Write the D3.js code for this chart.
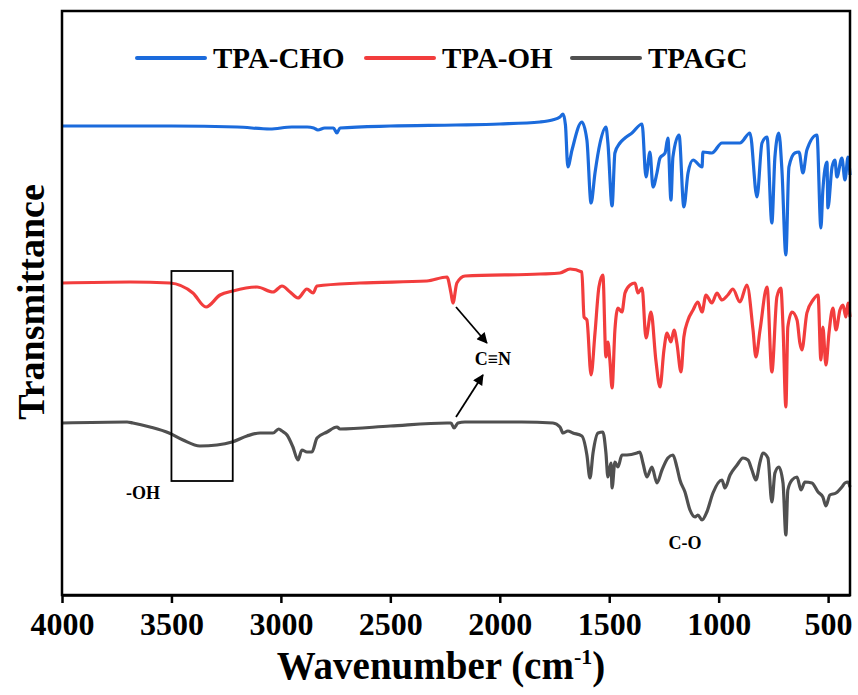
<!DOCTYPE html>
<html>
<head>
<meta charset="utf-8">
<script src="https://cdn.jsdelivr.net/npm/d3@7"></script>
<style>
  body { margin: 0; background: #fff; }
  text { font-family: "Liberation Serif", "Times New Roman", serif; font-weight: bold; fill: #000; }
</style>
</head>
<body>
<script>
// wavenumber (cm-1), transmittance (offset, arbitrary units)
const tpaCho = [[4000,469],[3500,469],[3200,468],[3050,466],[2950,468],[2880,468],[2850,467],[2831,465],[2800,467],[2760,467],[2744,462],[2730,467],[2500,469],[2200,470],[2000,471],[1816,473],[1760,475],[1725,478],[1711,481],[1700,470],[1689,428],[1670,445],[1625,473],[1602,455],[1583,392],[1565,422],[1542,452],[1515,468],[1506,452],[1487,389],[1474,442],[1451,452],[1428,457],[1396,462],[1350,471],[1332,418],[1314,443],[1300,408],[1282,422],[1268,437],[1245,442],[1232,457],[1218,395],[1209,438],[1181,460],[1159,388],[1140,422],[1117,435],[1076,428],[1072,443],[1031,442],[985,452],[903,452],[857,462],[825,398],[802,452],[779,458],[757,372],[743,438],[725,462],[711,425],[693,340],[679,428],[652,442],[633,443],[615,422],[597,445],[551,460],[533,367],[524,405],[505,433],[501,387],[482,428],[469,435],[460,418],[437,437],[423,415],[409,438],[400,420]];

const tpaOh = [[4000,312],[3689,313],[3507,312],[3402,302],[3342,288],[3278,300],[3219,304],[3109,308],[3036,303],[2995,309],[2958,303],[2922,297],[2881,306],[2853,302],[2835,309],[2639,312],[2333,314],[2241,318],[2223,302],[2214,292],[2196,312],[2159,319],[1816,321],[1725,322],[1679,326],[1625,323],[1615,278],[1602,275],[1583,220],[1565,262],[1547,308],[1529,320],[1515,238],[1506,253],[1497,235],[1487,207],[1474,265],[1460,287],[1442,283],[1428,302],[1405,310],[1382,312],[1369,302],[1350,307],[1332,257],[1309,283],[1287,235],[1268,208],[1250,245],[1236,262],[1218,253],[1204,265],[1191,252],[1172,223],[1159,258],[1140,275],[1117,285],[1095,293],[1076,283],[1058,300],[1031,292],[1008,302],[985,295],[958,300],[935,306],[903,293],[871,310],[843,265],[830,238],[811,265],[779,308],[757,223],[734,298],[716,307],[706,268],[693,188],[684,268],[665,283],[642,275],[629,252],[620,245],[597,282],[569,295],[546,300],[533,235],[524,268],[510,230],[496,262],[478,287],[464,265],[446,285],[432,290],[419,278],[409,292],[400,278]];

const tpagc = [[4000,172],[3703,173],[3676,172],[3598,168],[3511,162],[3447,155],[3370,149],[3292,150],[3223,153],[3155,159],[3095,162],[3036,162],[3010,166],[2995,164],[2972,160],[2945,148],[2922,135],[2904,145],[2881,143],[2858,143],[2835,157],[2789,163],[2744,168],[2730,166],[2500,169],[2241,172],[2223,172],[2209,167],[2191,172],[2159,173],[1900,173],[1757,172],[1725,168],[1711,162],[1689,164],[1666,162],[1625,159],[1602,140],[1588,117],[1574,142],[1551,162],[1529,163],[1515,142],[1506,118],[1492,132],[1487,107],[1474,133],[1460,128],[1442,140],[1419,140],[1373,142],[1360,143],[1346,132],[1328,118],[1305,128],[1282,112],[1259,125],[1232,137],[1209,140],[1191,128],[1177,115],[1154,103],[1131,85],[1108,78],[1095,80],[1076,75],[1054,83],[1026,102],[985,115],[971,107],[948,120],[916,130],[889,137],[866,135],[848,125],[830,115],[811,133],[798,142],[775,137],[757,93],[743,122],[725,128],[706,112],[693,60],[684,105],[665,115],[642,118],[624,105],[606,113],[574,112],[546,103],[524,98],[510,89],[492,100],[464,102],[437,108],[423,112],[409,113],[400,108]];

const seriesNames = ["TPA-CHO", "TPA-OH", "TPAGC"];
const seriesColors = ["#1b6bdc", "#f23d3d", "#505050"];
const xTicks = [4000, 3500, 3000, 2500, 2000, 1500, 1000, 500];

const w = 858;
const h = 695;
const margin = {top: 11, right: 8, bottom: 100, left: 62};

const x = d3.scaleLinear()
            .domain([4000, 400])
            .range([margin.left, w - margin.right]);

const y = d3.scaleLinear()
            .domain([0, 584])
            .range([h - margin.bottom, margin.top]);

const svg = d3.select("body")
              .append("svg")
              .attr("width", w)
              .attr("height", h);

svg.append("defs").append("marker")
   .attr("id", "arrow")
   .attr("viewBox", "0 0 10 10")
   .attr("refX", 9)
   .attr("refY", 5)
   .attr("markerWidth", 7)
   .attr("markerHeight", 6)
   .attr("markerUnits", "strokeWidth")
   .attr("orient", "auto")
   .append("path")
   .attr("d", "M0,0 L10,5 L0,10 z")
   .attr("fill", "#000");

// spectra
const line = d3.line()
               .x(d => x(d[0]))
               .y(d => y(d[1]))
               .curve(d3.curveMonotoneX);

const allSeries = [tpaCho, tpaOh, tpagc];

svg.selectAll("path.spectrum")
   .data(allSeries)
   .enter()
   .append("path")
   .attr("class", "spectrum")
   .attr("d", line)
   .attr("fill", "none")
   .attr("stroke", (d, i) => seriesColors[i])
   .attr("stroke-width", 3.2)
   .attr("stroke-linejoin", "round");

// -OH box
svg.append("rect")
   .attr("x", x(3500))
   .attr("y", y(324))
   .attr("width", x(3220) - x(3500))
   .attr("height", y(114) - y(324))
   .attr("fill", "none")
   .attr("stroke", "#000")
   .attr("stroke-width", 1.8);

svg.append("text")
   .attr("x", x(3630))
   .attr("y", y(96))
   .attr("text-anchor", "middle")
   .attr("font-size", 18)
   .text("-OH");

// C≡N arrows
svg.append("line")
   .attr("x1", x(2200)).attr("y1", y(288))
   .attr("x2", x(2059)).attr("y2", y(252))
   .attr("stroke", "#000").attr("stroke-width", 1.8)
   .attr("marker-end", "url(#arrow)");

svg.append("line")
   .attr("x1", x(2200)).attr("y1", y(178))
   .attr("x2", x(2077)).attr("y2", y(220))
   .attr("stroke", "#000").attr("stroke-width", 1.8)
   .attr("marker-end", "url(#arrow)");

svg.append("text")
   .attr("x", x(2031))
   .attr("y", y(230))
   .attr("text-anchor", "middle")
   .attr("font-size", 18)
   .text("C≡N");

svg.append("text")
   .attr("x", x(1154))
   .attr("y", y(46))
   .attr("text-anchor", "middle")
   .attr("font-size", 18)
   .text("C-O");

// frame and axis
svg.append("rect")
   .attr("x", margin.left)
   .attr("y", margin.top)
   .attr("width", w - margin.left - margin.right)
   .attr("height", h - margin.top - margin.bottom)
   .attr("fill", "none")
   .attr("stroke", "#000")
   .attr("stroke-width", 2.5);

const xAxis = svg.append("g")
                 .attr("transform", `translate(0,${h - margin.bottom})`)
                 .call(d3.axisBottom(x)
                         .tickValues(xTicks)
                         .tickFormat(d3.format("d"))
                         .tickSize(8)
                         .tickPadding(9)
                         .tickSizeOuter(0));

xAxis.select(".domain").attr("stroke-width", 2.5);
xAxis.selectAll(".tick line").attr("stroke-width", 2.5);
xAxis.selectAll(".tick text")
     .attr("font-size", 32)
     .attr("dy", "0.72em");

const xTitle = svg.append("text")
                  .attr("x", 441)
                  .attr("y", 679)
                  .attr("text-anchor", "middle")
                  .attr("font-size", 39);
xTitle.append("tspan").text("Wavenumber (cm");
xTitle.append("tspan").attr("font-size", 22).attr("dy", -15).text("-1");
xTitle.append("tspan").attr("dy", 15).text(")");

svg.append("text")
   .attr("transform", "translate(44,302) rotate(-90)")
   .attr("text-anchor", "middle")
   .attr("font-size", 38)
   .text("Transmittance");

// legend
const legend = svg.selectAll("g.legend")
                  .data(seriesNames)
                  .enter()
                  .append("g")
                  .attr("class", "legend");

const legendX = [137, 366, 572];

legend.append("line")
      .attr("x1", (d, i) => legendX[i])
      .attr("x2", (d, i) => legendX[i] + 68)
      .attr("y1", 58)
      .attr("y2", 58)
      .attr("stroke", (d, i) => seriesColors[i])
      .attr("stroke-width", 4)
      .attr("stroke-linecap", "round");

legend.append("text")
      .attr("x", (d, i) => legendX[i] + 76)
      .attr("y", 68)
      .attr("font-size", 29)
      .text(d => d);
</script>
</body>
</html>
